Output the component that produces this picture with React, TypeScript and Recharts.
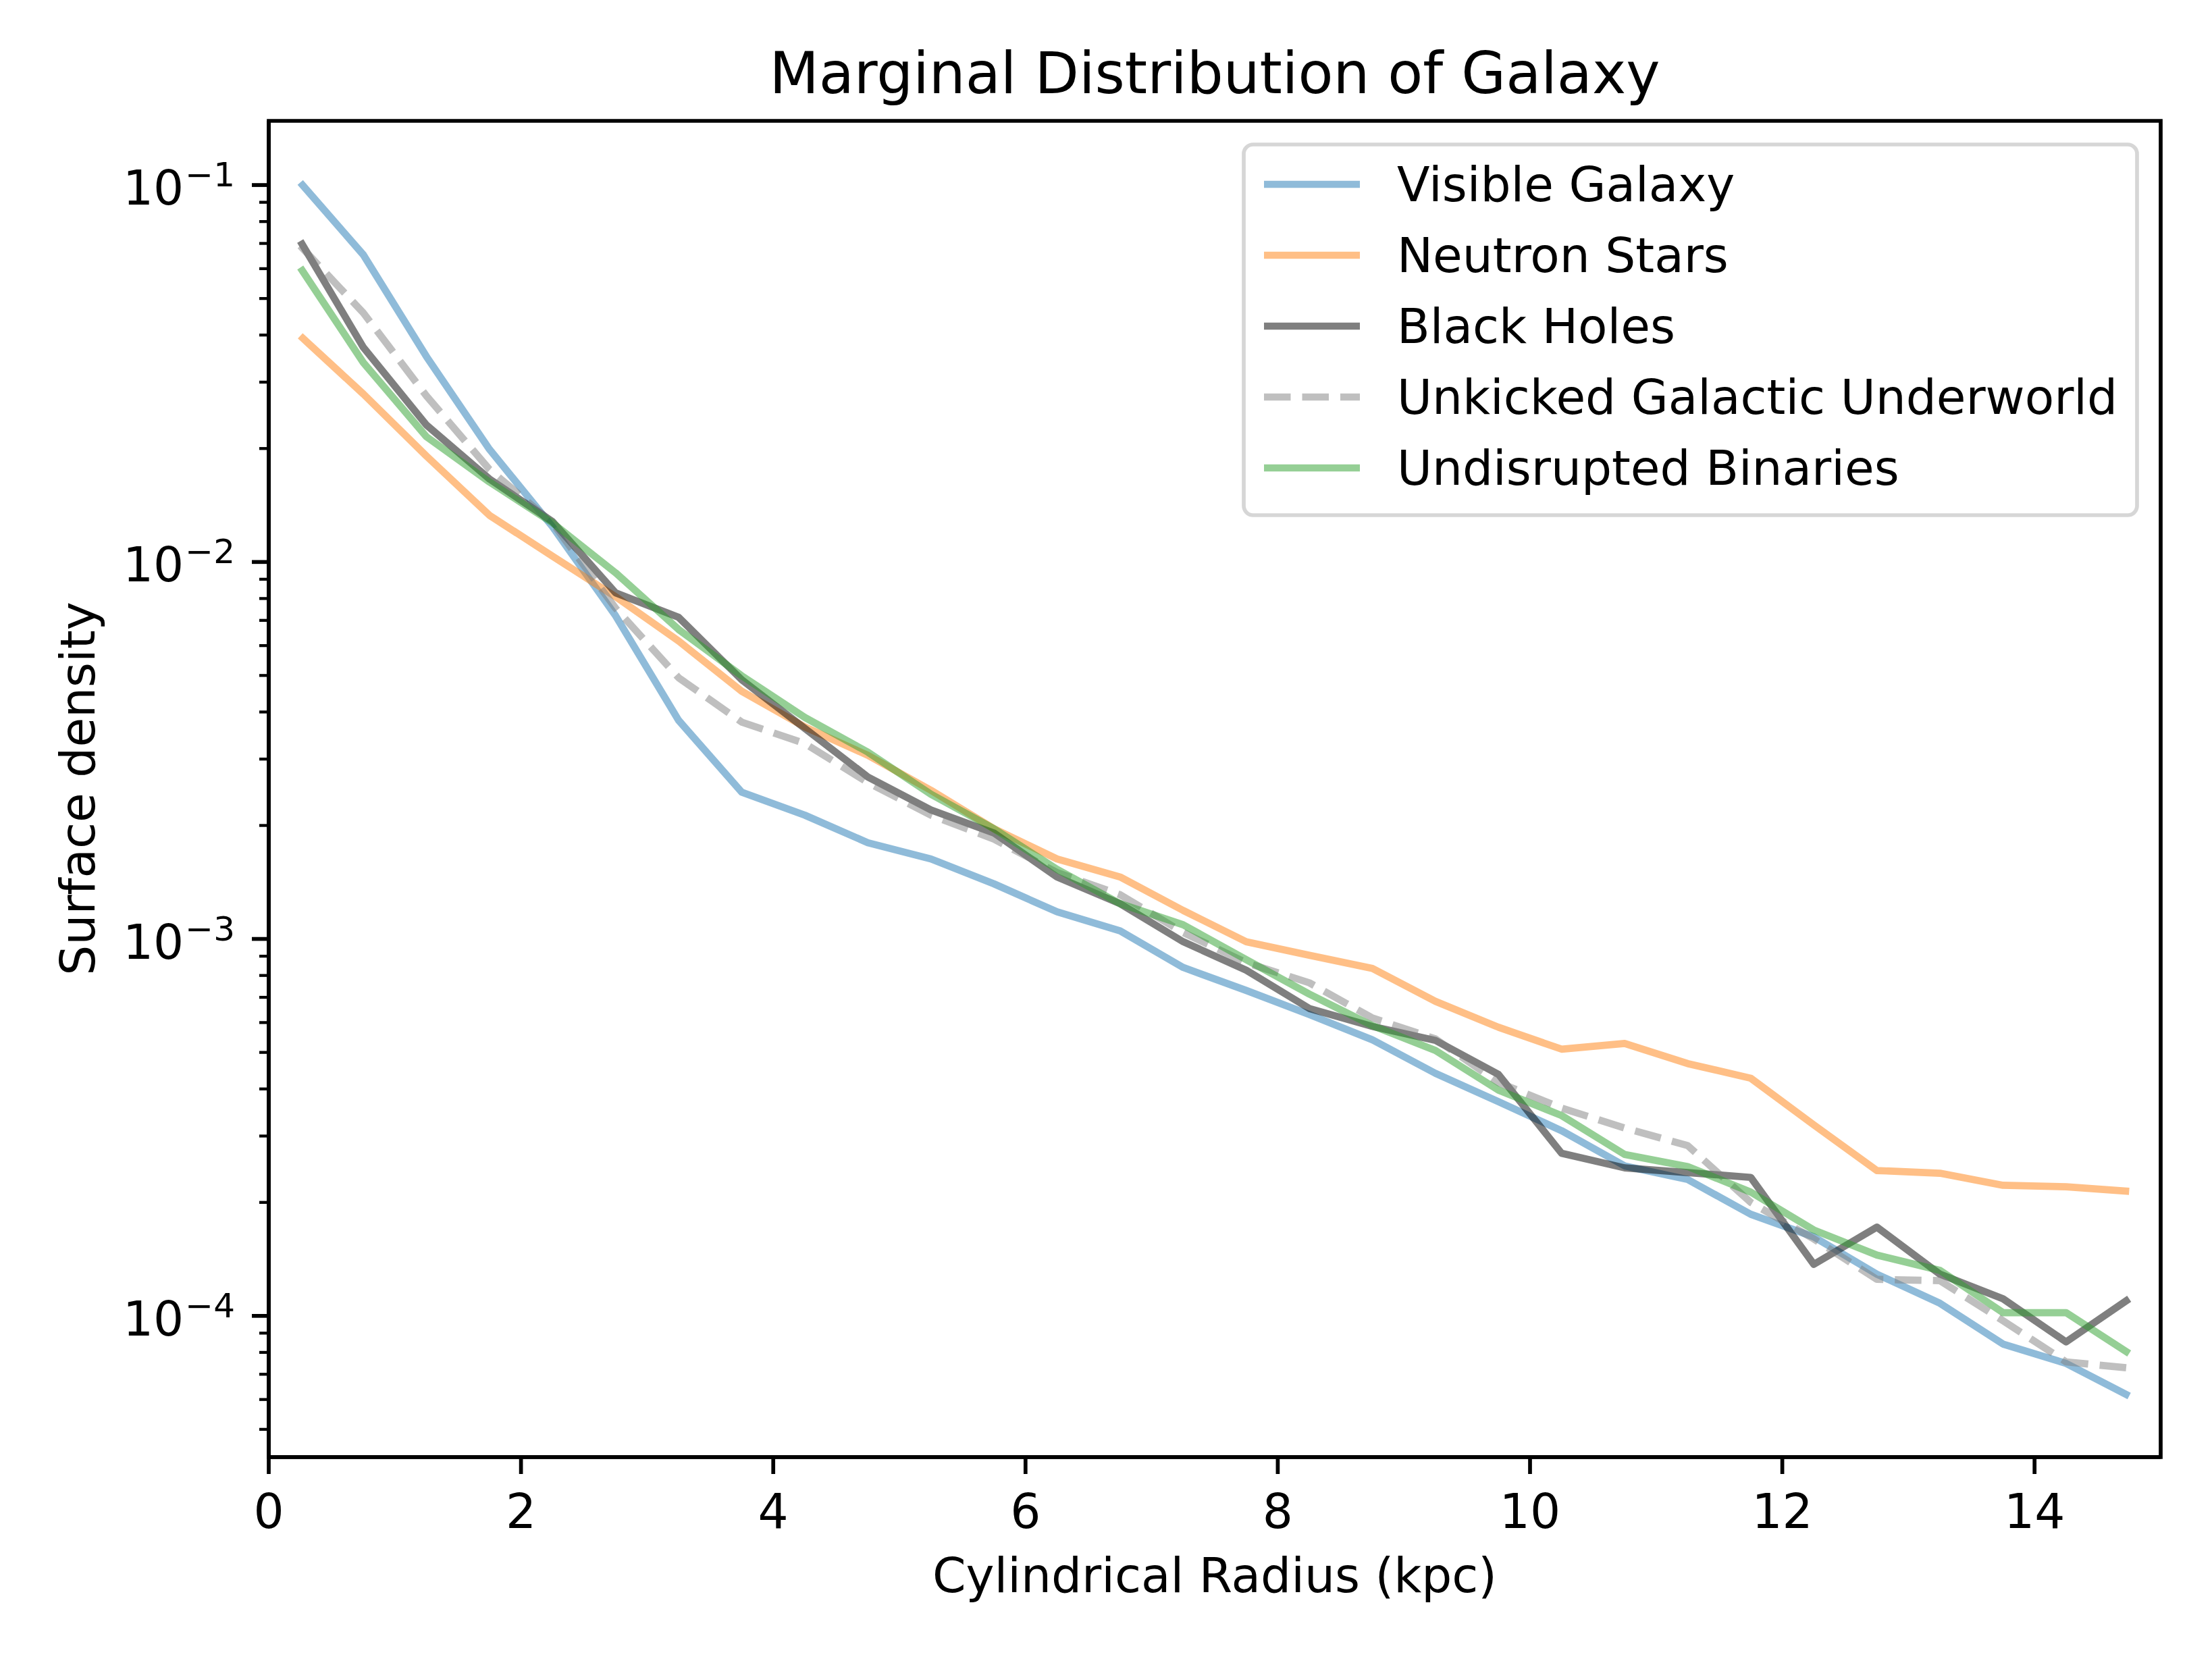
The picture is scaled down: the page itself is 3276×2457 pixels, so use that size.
import React from 'react';
import { LineChart, Line, XAxis, YAxis, ReferenceArea } from 'recharts';

const RADIUS = [0.25, 0.75, 1.25, 1.75, 2.25, 2.75, 3.25, 3.75, 4.25, 4.75, 5.25, 5.75, 6.25, 6.75, 7.25, 7.75, 8.25, 8.75, 9.25, 9.75, 10.25, 10.75, 11.25, 11.75, 12.25, 12.75, 13.25, 13.75, 14.25, 14.75];

const VISIBLE = [0.1016, 0.0653, 0.0351, 0.0199, 0.0124, 0.0072, 0.0038, 0.00245, 0.00213, 0.0018, 0.00163, 0.0014, 0.00118, 0.00105, 0.00084, 0.00073, 0.00063, 0.00054, 0.00044, 0.00037, 0.00031, 0.00025, 0.00023, 0.000186, 0.000162, 0.000129, 0.000108, 0.0000842, 0.0000748, 0.0000613];

const NEUTRON = [0.0398, 0.0279, 0.0191, 0.0133, 0.01036, 0.00809, 0.00617, 0.00454, 0.00365, 0.00307, 0.00248, 0.00196, 0.00163, 0.00146, 0.00119, 0.000983, 0.000905, 0.000835, 0.000683, 0.000583, 0.00051, 0.000528, 0.000467, 0.000427, 0.000321, 0.000243, 0.000239, 0.000222, 0.00022, 0.000214];

const BLACK_HOLES = [0.071, 0.0371, 0.0231, 0.0166, 0.0128, 0.00828, 0.00713, 0.00487, 0.00362, 0.00269, 0.0022, 0.00191, 0.00146, 0.00124, 0.000983, 0.000826, 0.000654, 0.000586, 0.000538, 0.000437, 0.00027, 0.000247, 0.00024, 0.000233, 0.000137, 0.000172, 0.000129, 0.000111, 0.0000853, 0.000111];

const UNKICKED = [0.069, 0.0458, 0.0276, 0.0176, 0.0127, 0.00754, 0.00493, 0.00376, 0.0033, 0.0026, 0.00213, 0.00184, 0.0015, 0.00131, 0.00104, 0.000865, 0.000765, 0.000617, 0.000543, 0.000416, 0.000356, 0.000315, 0.000283, 0.0002, 0.00016, 0.000125, 0.000124, 0.0000971, 0.0000755, 0.0000727];

const UNDISRUPTED = [0.0604, 0.0338, 0.0215, 0.0163, 0.0127, 0.00936, 0.00662, 0.00499, 0.00387, 0.00313, 0.00242, 0.00196, 0.00153, 0.00124, 0.00109, 0.000881, 0.000714, 0.000589, 0.000506, 0.000397, 0.00034, 0.000268, 0.000249, 0.000213, 0.000169, 0.000145, 0.000132, 0.000102, 0.000102, 0.0000795];

const X_TICKS = [0, 2, 4, 6, 8, 10, 12, 14];
const X_DOMAIN = [0, 15];
const Y_DOMAIN = [4.22e-5, 0.148];
const Y_TICKS = [
  5e-5, 6e-5, 7e-5, 8e-5, 9e-5,
  1e-4, 2e-4, 3e-4, 4e-4, 5e-4, 6e-4, 7e-4, 8e-4, 9e-4,
  1e-3, 2e-3, 3e-3, 4e-3, 5e-3, 6e-3, 7e-3, 8e-3, 9e-3,
  1e-2, 2e-2, 3e-2, 4e-2, 5e-2, 6e-2, 7e-2, 8e-2, 9e-2,
  1e-1,
];

const SERIES = [
  { key: 'vis', name: 'Visible Galaxy', values: VISIBLE, color: '#1f77b4', dash: '' },
  { key: 'ns', name: 'Neutron Stars', values: NEUTRON, color: '#ff7f0e', dash: '' },
  { key: 'bh', name: 'Black Holes', values: BLACK_HOLES, color: '#000000', dash: '' },
  { key: 'ugu', name: 'Unkicked Galactic Underworld', values: UNKICKED, color: '#808080', dash: '39.5 17' },
  { key: 'ub', name: 'Undisrupted Binaries', values: UNDISRUPTED, color: '#2ca02c', dash: '' },
];

const data = RADIUS.map((r, i) => {
  const row: Record<string, number> = { r };
  SERIES.forEach((s) => {
    row[s.key] = s.values[i];
  });
  return row;
});

const W = 3276;
const H = 2457;
const FONT = 'DejaVu Sans';
const LW = 10.7;
const SPINE = 5.7;
const MAJOR = 25;
const MINOR = 14;

function YTick(props: any) {
  const { x, y, payload } = props;
  const v = payload.value as number;
  const axisX = x + MAJOR;
  const e = Math.log10(v);
  const isMajor = Math.abs(e - Math.round(e)) < 1e-6;
  if (!isMajor) {
    return <line x1={axisX - MINOR} x2={axisX} y1={y} y2={y} stroke="#000" strokeWidth={4.3} />;
  }
  const exp = Math.round(e);
  return (
    <g>
      <line x1={axisX - MAJOR} x2={axisX} y1={y} y2={y} stroke="#000" strokeWidth={SPINE} />
      <text x={axisX - 50} y={y + 29} textAnchor="end" fontFamily={FONT} fontSize={71} fill="#000">
        <tspan>10</tspan>
        <tspan fontSize={50} dy={-27} dx={2}>{'\u2212' + Math.abs(exp)}</tspan>
      </text>
    </g>
  );
}

function XTick(props: any) {
  const { x, y, payload } = props;
  return (
    <text x={x} y={y + 80} textAnchor="middle" fontFamily={FONT} fontSize={71} fill="#000">
      {String(payload.value)}
    </text>
  );
}

function Overlay() {
  const lx = 1842;
  const ly = 214;
  const lw = 1323;
  const lh = 549;
  return (
    <svg width={W} height={H} style={{ position: 'absolute', left: 0, top: 0, pointerEvents: 'none' }}>
      <text x={1799} y={138} textAnchor="middle" fontFamily={FONT} fontSize={85} fill="#000">
        Marginal Distribution of Galaxy
      </text>
      <text x={1799} y={2358} textAnchor="middle" fontFamily={FONT} fontSize={71} fill="#000">
        Cylindrical Radius (kpc)
      </text>
      <text
        x={140}
        y={1168}
        textAnchor="middle"
        fontFamily={FONT}
        fontSize={71}
        fill="#000"
        transform="rotate(-90 140 1168)"
      >
        Surface density
      </text>
      <rect x={lx} y={ly} width={lw} height={lh} rx={14} ry={14} fill="#fff" fillOpacity={0.8} stroke="#cccccc" strokeOpacity={0.8} strokeWidth={SPINE} />
      {SERIES.map((s, i) => {
        const cy = 273 + i * 105;
        return (
          <g key={s.key}>
            <line
              x1={1872}
              x2={2014}
              y1={cy}
              y2={cy}
              stroke={s.color}
              strokeOpacity={0.5}
              strokeWidth={LW}
              strokeDasharray={s.dash || undefined}
            />
            <text x={2069} y={cy + 25} fontFamily={FONT} fontSize={71} fill="#000">
              {s.name}
            </text>
          </g>
        );
      })}
    </svg>
  );
}

export default function App() {
  return (
    <div style={{ position: 'absolute', left: 0, top: 0, width: W, height: H, background: '#fff' }}>
      <LineChart width={W} height={H} data={data} margin={{ top: 179, right: 76, bottom: 0, left: 0 }}>
        <XAxis
          dataKey="r"
          type="number"
          domain={X_DOMAIN}
          ticks={X_TICKS}
          interval={0}
          allowDataOverflow
          height={299}
          tickSize={MAJOR}
          tickMargin={0}
          axisLine={{ stroke: '#000', strokeWidth: SPINE }}
          tickLine={{ stroke: '#000', strokeWidth: SPINE }}
          tick={<XTick />}
        />
        <YAxis
          type="number"
          scale="log"
          domain={Y_DOMAIN}
          ticks={Y_TICKS}
          interval={0}
          allowDataOverflow
          width={398}
          tickSize={MAJOR}
          tickMargin={0}
          axisLine={{ stroke: '#000', strokeWidth: SPINE }}
          tickLine={false}
          tick={<YTick />}
        />
        {SERIES.map((s) => (
          <Line
            key={s.key}
            dataKey={s.key}
            name={s.name}
            type="linear"
            stroke={s.color}
            strokeOpacity={0.5}
            strokeWidth={LW}
            strokeDasharray={s.dash || undefined}
            strokeLinejoin="round"
            dot={false}
            activeDot={false}
            isAnimationActive={false}
          />
        ))}
        <ReferenceArea
          x1={X_DOMAIN[0]}
          x2={X_DOMAIN[1]}
          y1={Y_DOMAIN[0]}
          y2={Y_DOMAIN[1]}
          fill="none"
          fillOpacity={0}
          stroke="#000"
          strokeWidth={SPINE}
          ifOverflow="visible"
        />
      </LineChart>
      <Overlay />
    </div>
  );
}
